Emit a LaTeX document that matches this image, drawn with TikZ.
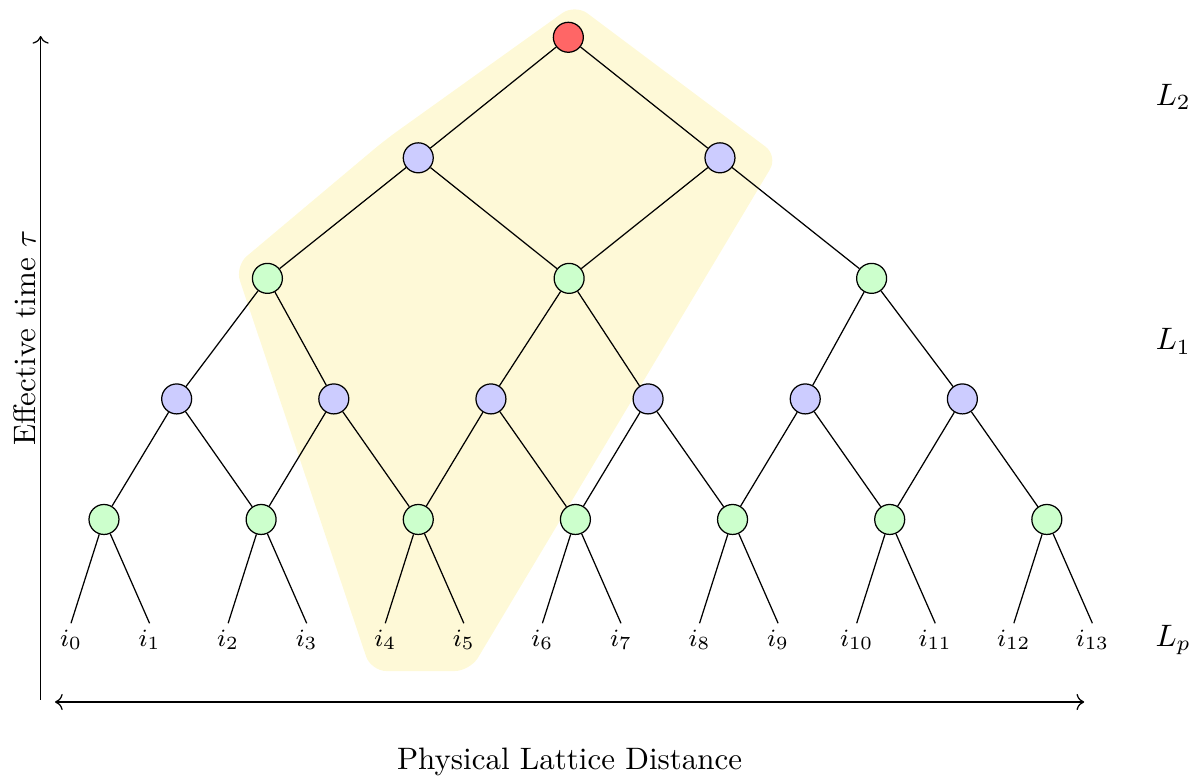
\documentclass[tikz,border=0pt]{standalone}
\usepackage{xcolor}
\usepackage{tikz}
\usetikzlibrary{positioning, arrows.meta}
\definecolor{topR}{HTML}{FF6666}
\definecolor{disB}{HTML}{CCCCFF}
\definecolor{isoG}{HTML}{CCFFCC}
\definecolor{coneY}{HTML}{FEF9D7}

\begin{document}
\begin{tikzpicture}[
    site/.style={circle, draw=black, minimum size=0.34cm, inner sep=0pt},
    leaf/.style={font=\footnotesize, inner sep=2pt},
    lvl/.style={anchor=base}]
  % leaf spacing, layer spacing
  \def\sx{0.891}
  \def\sy{1.367}
  \useasboundingbox (-0.805,-1.588) rectangle (12.826,7.258);
  % causal cone of i4, i5
  \fill[coneY, rounded corners=5pt] (5.715,7.212) -- (8.017,5.489) -- (4.525,-0.352)
     -- (3.402,-0.352) -- (1.860,4.241) -- (3.561,5.670) -- cycle;
  % physical sites
  \foreach \k in {0,...,13}
    \node[leaf] (i\k) at (\k*\sx, 0) {$i_{\k}$};
  % layer 1
  \foreach \n [evaluate=\n as \a using int(2*\n),
               evaluate=\n as \b using int(2*\n+1)] in {0,...,6}{
    \node[site, fill=isoG] (g\n) at ({(2*\n+0.42)*\sx}, \sy) {};
    \draw (g\n) -- (i\a.north);
    \draw (g\n) -- (i\b.north);
  }
  % layer 2
  \foreach \n [evaluate=\n as \b using int(\n+1)] in {0,...,5}{
    \node[site, fill=disB] (b\n) at ({(2*\n+1.345)*\sx}, 2*\sy) {};
    \draw (b\n) -- (g\n);
    \draw (b\n) -- (g\b);
  }
  % layer 3
  \foreach \x [count=\n from 0, evaluate=\n as \a using int(2*\n),
               evaluate=\n as \b using int(2*\n+1)] in {2.50,6.34,10.19}{
    \node[site, fill=isoG] (u\n) at (\x*\sx, 3*\sy) {};
    \draw (u\n) -- (b\a);
    \draw (u\n) -- (b\b);
  }
  % layer 4
  \foreach \x [count=\n from 0, evaluate=\n as \b using int(\n+1)] in {4.42,8.26}{
    \node[site, fill=disB] (w\n) at (\x*\sx, 4*\sy) {};
    \draw (w\n) -- (u\n);
    \draw (w\n) -- (u\b);
  }
  % top
  \node[site, fill=topR] (top) at (6.33*\sx, 5*\sy) {};
  \draw (top) -- (w0);
  \draw (top) -- (w1);
  % axes
  \draw[->] (-0.344,-0.68) -- (-0.344,6.85);
  \draw[<->] (-0.181,-0.703) -- (11.49,-0.703);
  \node[rotate=90] (ytitle) at (-0.522,3.425) {Effective time $\tau$};
  \node (xtitle) at (5.655,-1.383) {Physical Lattice Distance};
  % layer labels
  \node[lvl] (L2) at (12.50,6.067) {$L_2$};
  \node[lvl] (L1) at (12.50,3.289) {$L_1$};
  \node[lvl] (Lp) at (12.50,-0.068) {$L_p$};
\end{tikzpicture}
\end{document}
